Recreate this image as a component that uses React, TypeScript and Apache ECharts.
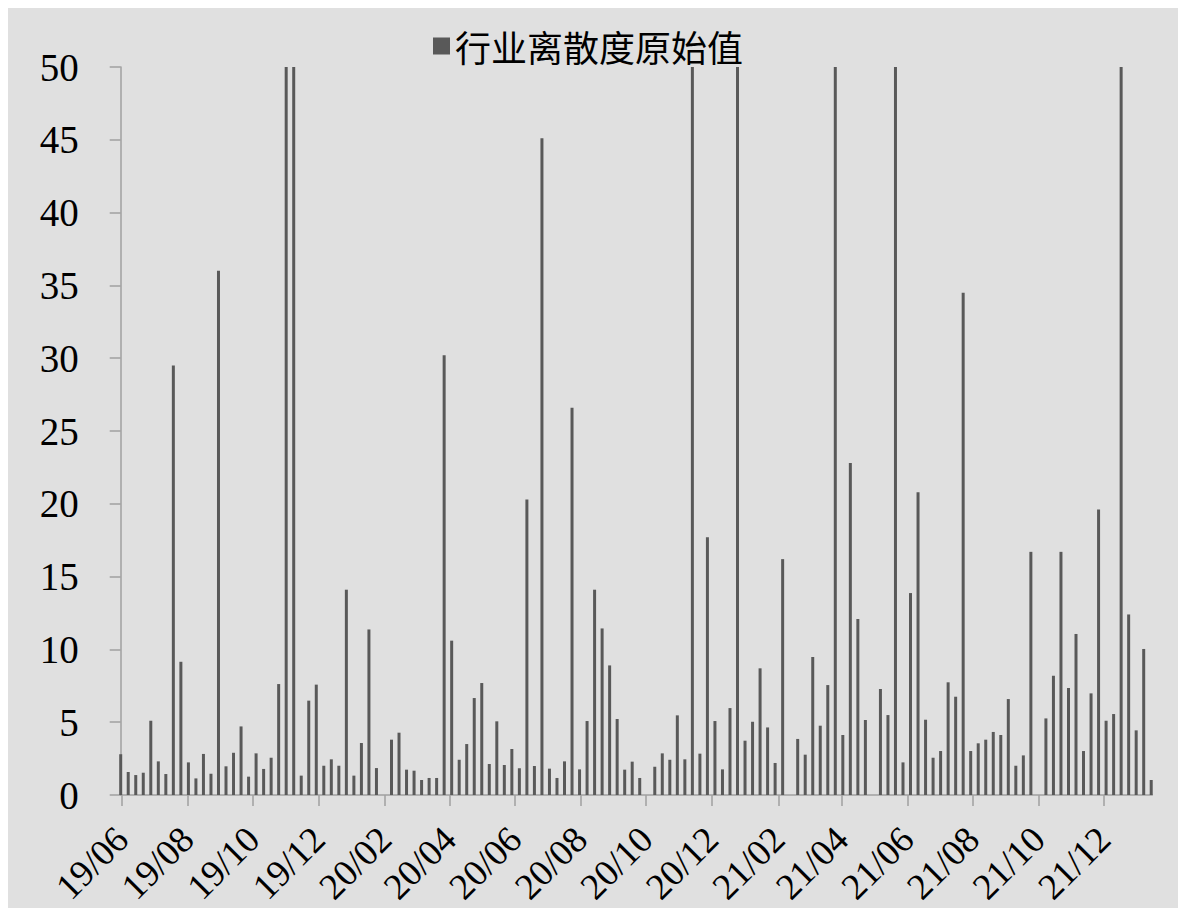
import React, { useEffect, useRef } from 'react';
import * as echarts from 'echarts';

const seriesName = '行业离散度原始值';

const dates: string[] = [
  '2019-05-31',
  '2019-06-07', '2019-06-14', '2019-06-21', '2019-06-28',
  '2019-07-05', '2019-07-12', '2019-07-19', '2019-07-26',
  '2019-08-02', '2019-08-09', '2019-08-16', '2019-08-23', '2019-08-30',
  '2019-09-06', '2019-09-13', '2019-09-20', '2019-09-27',
  '2019-10-04', '2019-10-11', '2019-10-18', '2019-10-25',
  '2019-11-01', '2019-11-08', '2019-11-15', '2019-11-22', '2019-11-29',
  '2019-12-06', '2019-12-13', '2019-12-20', '2019-12-27',
  '2020-01-03', '2020-01-10', '2020-01-17', '2020-01-24',
  '2020-02-07', '2020-02-14', '2020-02-21', '2020-02-28',
  '2020-03-06', '2020-03-13', '2020-03-20', '2020-03-27',
  '2020-04-03', '2020-04-10', '2020-04-17', '2020-04-24',
  '2020-05-01', '2020-05-08', '2020-05-15', '2020-05-22', '2020-05-29',
  '2020-06-05', '2020-06-12', '2020-06-19', '2020-06-26',
  '2020-07-03', '2020-07-10', '2020-07-17', '2020-07-24', '2020-07-31',
  '2020-08-07', '2020-08-14', '2020-08-21', '2020-08-28',
  '2020-09-04', '2020-09-11', '2020-09-18', '2020-09-25',
  '2020-10-09', '2020-10-16', '2020-10-23', '2020-10-30',
  '2020-11-06', '2020-11-13', '2020-11-20', '2020-11-27',
  '2020-12-04', '2020-12-11', '2020-12-18', '2020-12-25',
  '2021-01-01', '2021-01-08', '2021-01-15', '2021-01-22', '2021-01-29',
  '2021-02-05',
  '2021-02-19', '2021-02-26',
  '2021-03-05', '2021-03-12', '2021-03-19', '2021-03-26',
  '2021-04-02', '2021-04-09', '2021-04-16', '2021-04-23',
  '2021-05-07', '2021-05-14', '2021-05-21', '2021-05-28',
  '2021-06-04', '2021-06-11', '2021-06-18', '2021-06-25',
  '2021-07-02', '2021-07-09', '2021-07-16', '2021-07-23', '2021-07-30',
  '2021-08-06', '2021-08-13', '2021-08-20', '2021-08-27',
  '2021-09-03', '2021-09-10', '2021-09-17', '2021-09-24',
  '2021-10-08', '2021-10-15', '2021-10-22', '2021-10-29',
  '2021-11-05', '2021-11-12', '2021-11-19', '2021-11-26',
  '2021-12-03', '2021-12-10', '2021-12-17', '2021-12-24', '2021-12-31',
  '2022-01-07', '2022-01-14',
];

const values: number[] = [
  2.8,
  1.58, 1.37, 1.53, 5.1,
  2.31, 1.44, 29.5, 9.15,
  2.24, 1.14, 2.82, 1.46, 36.0,
  1.97, 2.9, 4.71, 1.26,
  2.86, 1.79, 2.56, 7.62,
  50, 50, 1.33, 6.48, 7.58,
  2.01, 2.45, 2.01, 14.1,
  1.33, 3.57, 11.37, 1.85,
  3.8, 4.28, 1.74, 1.67,
  1.03, 1.17, 1.17, 30.2,
  10.6, 2.42, 3.5, 6.66,
  7.69, 2.13, 5.06, 2.06, 3.16,
  1.83, 20.3, 1.99, 45.1,
  1.81, 1.17, 2.31, 26.6, 1.76,
  5.08, 14.1, 11.44, 8.9,
  5.22, 1.74, 2.29, 1.17,
  1.94, 2.86, 2.42, 5.47,
  2.45, 50, 2.84, 17.7,
  5.08, 1.76, 5.97, 50,
  3.73, 5.03, 8.7, 4.64, 2.2,
  16.2,
  3.85, 2.77,
  9.48, 4.76, 7.55, 50,
  4.12, 22.8, 12.09, 5.15,
  7.28, 5.49, 50, 2.24,
  13.87, 20.8, 5.17, 2.56,
  3.02, 7.74, 6.75, 34.5, 3.02,
  3.55, 3.8, 4.33, 4.12,
  6.59, 2.01, 2.72, 16.7,
  5.26, 8.19, 16.7, 7.35,
  11.06, 3.02, 6.98, 19.6,
  5.1, 5.56, 50, 12.4, 4.44,
  10.03, 1.03,
];

const xTickDates: string[] = [
  '2019-06-01', '2019-08-01', '2019-10-01', '2019-12-01',
  '2020-02-01', '2020-04-01', '2020-06-01', '2020-08-01',
  '2020-10-01', '2020-12-01', '2021-02-01', '2021-04-01',
  '2021-06-01', '2021-08-01', '2021-10-01', '2021-12-01',
];
const xTickLabels: string[] = [
  '19/06', '19/08', '19/10', '19/12',
  '20/02', '20/04', '20/06', '20/08',
  '20/10', '20/12', '21/02', '21/04',
  '21/06', '21/08', '21/10', '21/12',
];

const xMinDate = '2019-05-31';
const xMaxDate = '2022-01-15';
const yMin = 0;
const yMax = 50;
const yInterval = 5;

// day number (UTC) for a yyyy-mm-dd string
function dayNum(d: string): number {
  const [y, m, dd] = d.split('-').map(Number);
  return Date.UTC(y, m - 1, dd) / 86400000;
}

const serif = "'Times New Roman', 'Liberation Serif', serif";

export default function App() {
  const ref = useRef<HTMLDivElement>(null);
  useEffect(() => {
    if (!ref.current) return;
    const chart = echarts.init(ref.current, null, { renderer: 'svg' });
    const tickDays = xTickDates.map(dayNum);
    chart.setOption({
      animation: false,
      backgroundColor: '#e0e0e0',
      legend: {
        data: [seriesName],
        left: 420,
        top: 15,
        icon: 'rect',
        itemWidth: 17,
        itemHeight: 17,
        textStyle: {
          fontSize: 36,
          color: '#000',
          fontFamily: "'Noto Sans CJK SC', sans-serif",
        },
      },
      grid: {
        left: 112.7,
        right: 25.7,
        top: 59,
        bottom: 113,
        outerBoundsMode: 'none',
      },
      xAxis: {
        type: 'value',
        min: dayNum(xMinDate),
        max: dayNum(xMaxDate),
        splitLine: { show: false },
        minorTick: { show: false },
        axisLine: { show: true, lineStyle: { color: '#a0a0a0', width: 1.5 } },
        axisTick: {
          show: true,
          customValues: tickDays,
          length: 11,
          lineStyle: { color: '#a0a0a0', width: 1.5 },
        },
        axisLabel: {
          show: true,
          customValues: tickDays,
          rotate: 45,
          margin: 38,
          fontSize: 37,
          color: '#000',
          fontFamily: serif,
          formatter: (v: number) => {
            const i = tickDays.findIndex((t) => Math.abs(t - v) < 0.5);
            return i >= 0 ? xTickLabels[i] : '';
          },
        },
      },
      yAxis: {
        type: 'value',
        min: yMin,
        max: yMax,
        interval: yInterval,
        splitLine: { show: false },
        axisLine: { show: true, lineStyle: { color: '#a0a0a0', width: 1.5 } },
        axisTick: { show: true, length: 11, lineStyle: { color: '#a0a0a0', width: 1.5 } },
        axisLabel: {
          fontSize: 39,
          color: '#000',
          fontFamily: serif,
          margin: 42,
        },
      },
      series: [
        {
          type: 'bar',
          name: seriesName,
          data: dates.map((d, i) => [dayNum(d), values[i]]),
          barWidth: 3,
          clip: false,
          itemStyle: { color: '#595959' },
        },
      ],
    });
    return () => chart.dispose();
  }, []);
  return <div ref={ref} style={{ width: 1170, height: 900 }} />;
}
